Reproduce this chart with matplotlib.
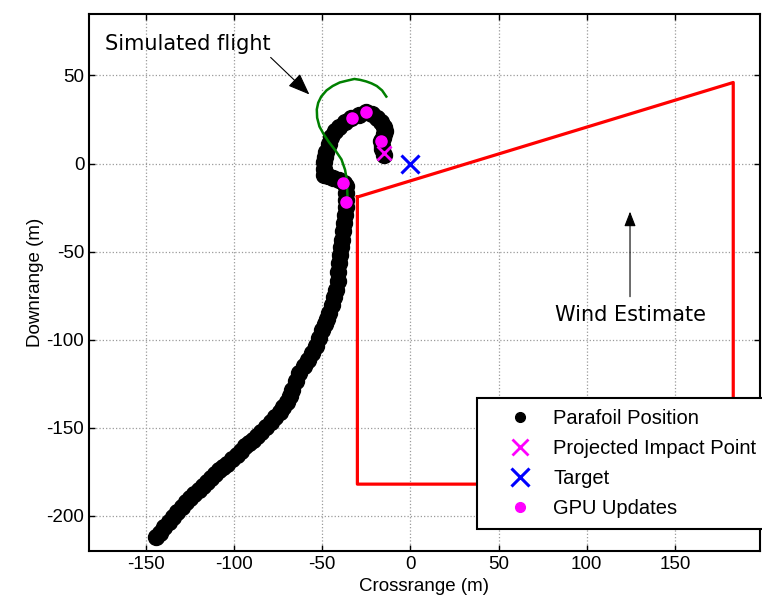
import numpy as np
import matplotlib
matplotlib.use("Agg")
import matplotlib.pyplot as plt
from matplotlib.lines import Line2D

plt.rcParams["axes.unicode_minus"] = False

# parafoil track (crossrange, downrange) in metres
track_x = [-144.3, -142.0, -139.5, -137.0, -134.7, -132.0, -129.5, -127.0, -125.1, -122.5,
           -120.0, -117.5, -115.4, -113.0, -110.5, -108.4, -106.4, -104.0, -101.3, -98.5,
           -96.0, -93.5, -91.5, -89.4, -87.0, -84.5, -81.5, -79.0, -76.5, -74.1,
           -72.0, -70.0, -68.3, -66.8, -64.8, -62.8, -60.5, -58.0, -55.5, -53.5,
           -51.6, -49.8, -48.5, -47.2, -45.8, -44.5, -43.2, -41.9, -41.2, -40.7,
           -40.2, -39.6, -39.0, -38.5, -38.0, -37.4, -36.8, -36.5, -36.2, -36.2,
           -36.5, -37.4, -40.5, -44.0, -46.5, -48.7, -49.0, -48.7, -48.2, -47.5,
           -46.3, -44.7, -42.6, -40.2, -37.0, -33.4, -29.0, -24.9, -21.5, -18.7,
           -16.5, -14.7, -14.5, -14.7, -15.6, -16.4, -16.2, -15.8, -14.7]
track_y = [-211.9, -209.5, -206.5, -203.5, -200.6, -197.8, -195.0, -192.2, -189.8, -187.5,
           -185.2, -182.8, -180.7, -178.6, -176.4, -174.2, -172.2, -170.4, -168.0, -165.3,
           -163.0, -160.6, -158.7, -156.8, -154.6, -152.3, -149.4, -146.8, -143.8, -140.9,
           -138.3, -135.5, -132.0, -128.4, -123.5, -118.8, -115.0, -111.3, -107.4, -103.5,
           -99.0, -94.3, -91.0, -88.0, -84.7, -80.5, -76.0, -71.6, -66.5, -61.5,
           -56.3, -51.8, -47.5, -43.2, -38.5, -33.7, -29.0, -24.5, -20.5, -16.8,
           -13.0, -10.8, -9.2, -8.0, -7.0, -6.3, -3.0, 0.6, 3.8, 6.8,
           11.0, 15.3, 18.3, 21.0, 23.6, 26.0, 27.8, 29.0, 28.0, 26.0,
           23.5, 21.0, 18.7, 16.5, 14.5, 12.5, 10.2, 8.0, 5.0]

# simulated flight from the last update
sim_x = [-35.6, -35.8, -36.0, -37.0, -39.0, -42.5, -46.0, -49.0, -51.5, -52.8, -53.0, -52.2,
         -50.5, -47.5, -44.0, -40.0, -36.0, -31.7, -28.5, -25.0, -22.0, -19.0, -16.0, -13.6]
sim_y = [-19.0, -14.0, -9.0, -3.5, 2.3, 7.5, 12.0, 16.5, 21.0, 26.0, 30.7, 34.5,
         38.0, 41.5, 44.0, 46.0, 47.0, 48.0, 47.5, 46.6, 45.5, 44.0, 41.5, 38.0]

# GPU update locations
gpu_x = [-36.2, -37.9, -32.8, -24.9, -16.4]
gpu_y = [-21.6, -10.8, 25.6, 29.0, 13.0]

impact = (-15.0, 6.0)
target = (0.0, 0.0)

# wind estimate region outline
wind_x = [-30, 183, 183, -30, -30]
wind_y = [-19, 46, -182, -182, -19]

tick_font = ["Liberation Sans"]

fig = plt.figure(figsize=(7.62, 5.99), dpi=100)
ax = fig.add_axes([0.117, 0.080, 0.880, 0.897])

ax.plot(wind_x, wind_y, color="red", lw=2.3, zorder=2)
ax.plot(track_x, track_y, "o", color="black", ms=11.5, mec="black", zorder=3)
ax.plot(sim_x, sim_y, color="green", lw=1.8, zorder=4)
ax.plot(gpu_x, gpu_y, "o", color="magenta", ms=8, mec="magenta", zorder=5)
ax.plot(*impact, "x", color="magenta", ms=10, mew=2, zorder=6)
ax.plot(*target, "x", color="blue", ms=13, mew=2.2, zorder=6)

ax.set_xlim(-182, 198)
ax.set_ylim(-220, 85)
ax.set_xticks(np.arange(-150, 151, 50))
ax.set_yticks(np.arange(-200, 51, 50))
ax.grid(True, color="#9a9a9a", ls=":", lw=0.9)
ax.tick_params(direction="in", top=True, right=True, length=4, width=1, labelsize=13.5)
for lab in ax.get_xticklabels() + ax.get_yticklabels():
    lab.set_family(tick_font)
for sp in ax.spines.values():
    sp.set_linewidth(1.5)

ax.set_xlabel("Crossrange (m)", fontsize=13.5, family=tick_font, labelpad=4)
ax.set_ylabel("Downrange (m)", fontsize=13.5, family=tick_font, labelpad=2)

ax.annotate("Simulated flight", xy=(-57.2, 39.2), xytext=(-173, 67.6),
            fontsize=15, family="DejaVu Sans", va="center", ha="left",
            arrowprops=dict(arrowstyle="-|>,head_length=0.9,head_width=0.35", color="black",
                            lw=0.8, shrinkA=0, shrinkB=0,
                            patchA=None, relpos=(1.0, -0.15)))
ax.annotate("", xy=(124.5, -27.3), xytext=(124.5, -75.6),
            arrowprops=dict(arrowstyle="-|>,head_length=0.9,head_width=0.35", color="black",
                            lw=0.8, shrinkA=0, shrinkB=0))
ax.text(125, -86, "Wind Estimate", fontsize=15, family="DejaVu Sans", ha="center", va="center")

handles = [
    Line2D([], [], ls="none", marker="o", color="black", ms=7),
    Line2D([], [], ls="none", marker="x", color="magenta", ms=11, mew=2),
    Line2D([], [], ls="none", marker="x", color="blue", ms=13, mew=2.2),
    Line2D([], [], ls="none", marker="o", color="magenta", ms=7),
]
labels = ["Parafoil Position", "Projected Impact Point", "Target", "GPU Updates"]
leg = ax.legend(handles, labels, loc="upper left", bbox_to_anchor=(0.578, 0.285),
                fontsize=14.5, frameon=True, fancybox=False, edgecolor="black",
                framealpha=1, borderpad=0.55, labelspacing=0.55, handlelength=3.2,
                handletextpad=0.05, borderaxespad=0)
leg.get_frame().set_linewidth(1.5)
leg.set_zorder(10)
for t in leg.get_texts():
    t.set_family(["Liberation Sans"])

fig.savefig("out.png", dpi=100)
